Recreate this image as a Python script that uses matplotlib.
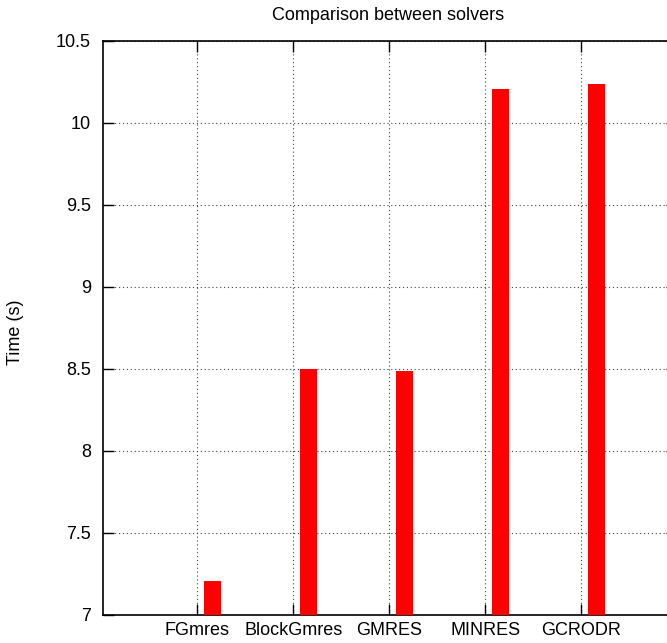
import matplotlib
matplotlib.use("Agg")
import matplotlib.pyplot as plt
import numpy as np

solvers = ["FGmres", "BlockGmres", "GMRES", "MINRES", "GCRODR"]
times = [7.205, 8.50, 8.487, 10.205, 10.237]
yticks = [7, 7.5, 8, 8.5, 9, 9.5, 10, 10.5]
ytick_labels = ["7", "7.5", "8", "8.5", "9", "9.5", "10", "10.5"]

plt.rcParams['font.family'] = ['Liberation Sans', 'DejaVu Sans']

W, H = 667, 643
fig = plt.figure(figsize=(W/100, H/100), dpi=100)
left_px, top_px, bottom_px = 102.7, 40.5, 614.5
px_per_unit = 96.0
xmin, xmax = -0.985, 5.0
width_px = (xmax - xmin) * px_per_unit
ax = fig.add_axes([left_px/W, (H-bottom_px)/H, width_px/W, (bottom_px-top_px)/H])

x = np.arange(len(solvers))
ax.bar(x + 0.16, times, width=0.183, color='#ff0000', zorder=3, bottom=0)
ax.set_xlim(xmin, xmax)
ax.set_ylim(7, 10.5)
ax.set_xticks(x)
ax.set_xticklabels(solvers, fontsize=13)
ax.set_yticks(yticks)
ax.set_yticklabels(ytick_labels, fontsize=13)
ax.tick_params(direction='in', length=8, width=1, top=True, right=True)
ax.tick_params(axis='y', pad=8.6)
ax.tick_params(axis='x', pad=5.5)
ax.grid(True, linestyle=(0, (1, 2.5)), color='#444444', linewidth=0.8, zorder=1)
ax.set_axisbelow(True)
for s in ax.spines.values():
    s.set_linewidth(1.2)
fig.text(15/W, 1 - 332/H, "Time (s)", rotation=90, ha='center', va='center', fontsize=13)
fig.text(388.5/W, 1 - 15/H, "Comparison between solvers", ha='center', va='center', fontsize=13)
fig.savefig("out.png", dpi=100)
